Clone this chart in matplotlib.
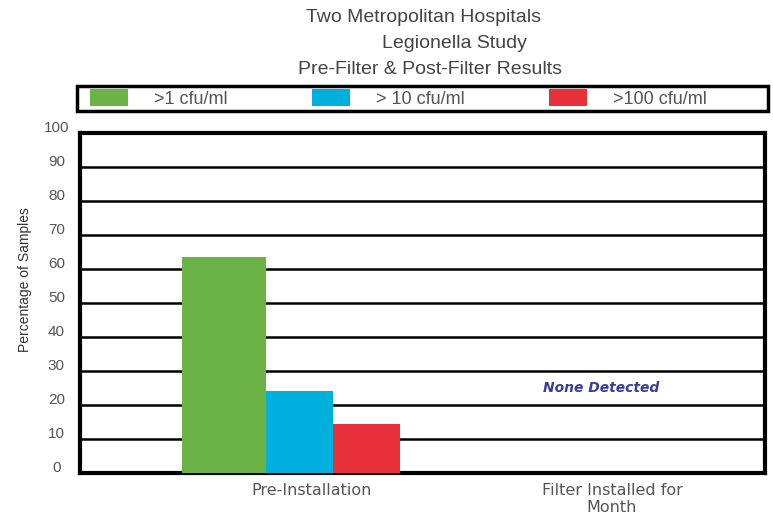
import numpy as np
import matplotlib.pyplot as plt
from matplotlib.patches import Rectangle
from matplotlib.transforms import ScaledTranslation

categories = ['Pre-Installation', 'Filter Installed for\nMonth']
series = ['>1 cfu/ml', '> 10 cfu/ml', '>100 cfu/ml']
values = [[63.5, 0], [24, 0], [14.3, 0]]
colors = ['#6ab344', '#00b0dc', '#e8303a']
yticks = [0, 10, 20, 30, 40, 50, 60, 70, 80, 90, 100]

fig = plt.figure(figsize=(7.73, 5.14), dpi=100)
ax = fig.add_axes([80 / 773, 41 / 514, 685 / 773, 340 / 514])

x = np.arange(len(categories))
offsets = [-0.293, -0.042, 0.182]
widths = [0.28, 0.223, 0.223]
for i in range(len(series)):
    ax.bar(x + offsets[i], values[i], width=widths[i], color=colors[i],
           label=series[i], zorder=3)

ax.set_xlim(-0.773, 1.51)
ax.set_ylim(0, 100)
ax.set_yticks(yticks)
ax.set_yticklabels([str(v) for v in yticks], fontsize=11, color='#555555',
                   family='Liberation Sans', ha='center')
ax.tick_params(axis='y', length=0, pad=17)
ax.set_xticks(x)
ax.set_xticklabels(categories, fontsize=11.5, color='#555555', linespacing=1.15,
                   family='DejaVu Sans')
ax.tick_params(axis='x', length=0, pad=7)
# labels sit a little above the gridlines in the original
shift = ScaledTranslation(0, 6 / 100, fig.dpi_scale_trans)
for lab in ax.get_yticklabels():
    lab.set_transform(lab.get_transform() + shift)

ax.grid(axis='y', color='black', linewidth=1.8, zorder=0)
ax.set_axisbelow(True)
for sp in ax.spines.values():
    sp.set_linewidth(3)
    sp.set_color('black')

ax.set_ylabel('Percentage of Samples', fontsize=10, color='#333333',
              family='Liberation Sans')
ax.yaxis.set_label_coords(-0.07, 0.57)

ax.text(0.963, 25, 'None Detected', color='#3b3b9c', fontsize=10,
        fontweight='bold', fontstyle='italic', ha='center', va='center',
        family='DejaVu Sans')

title_font = dict(ha='center', va='center', fontsize=14, color='#444444',
                  family='Liberation Sans')
fig.text(424 / 773, 1 - 18 / 514, 'Two Metropolitan Hospitals', **title_font)
fig.text(454 / 773, 1 - 43 / 514, 'Legionella Study', **title_font)
fig.text(430 / 773, 1 - 70 / 514, 'Pre-Filter & Post-Filter Results', **title_font)

# legend box spans the plot width
fig.patches.append(Rectangle((77 / 773, (514 - 111) / 514), 691 / 773, 25 / 514,
                             transform=fig.transFigure, fill=False,
                             edgecolor='black', linewidth=2.5))
leg = fig.legend(loc='center left', ncol=3, frameon=False,
                 bbox_to_anchor=(90 / 773, (514 - 98.5) / 514),
                 handlelength=2.1, handleheight=1.05, borderaxespad=0,
                 borderpad=0, handletextpad=1.45, columnspacing=4.67,
                 prop={'family': 'Liberation Sans', 'size': 13})
for t in leg.get_texts():
    t.set_color('#555555')

fig.savefig('out.png', dpi=100)
